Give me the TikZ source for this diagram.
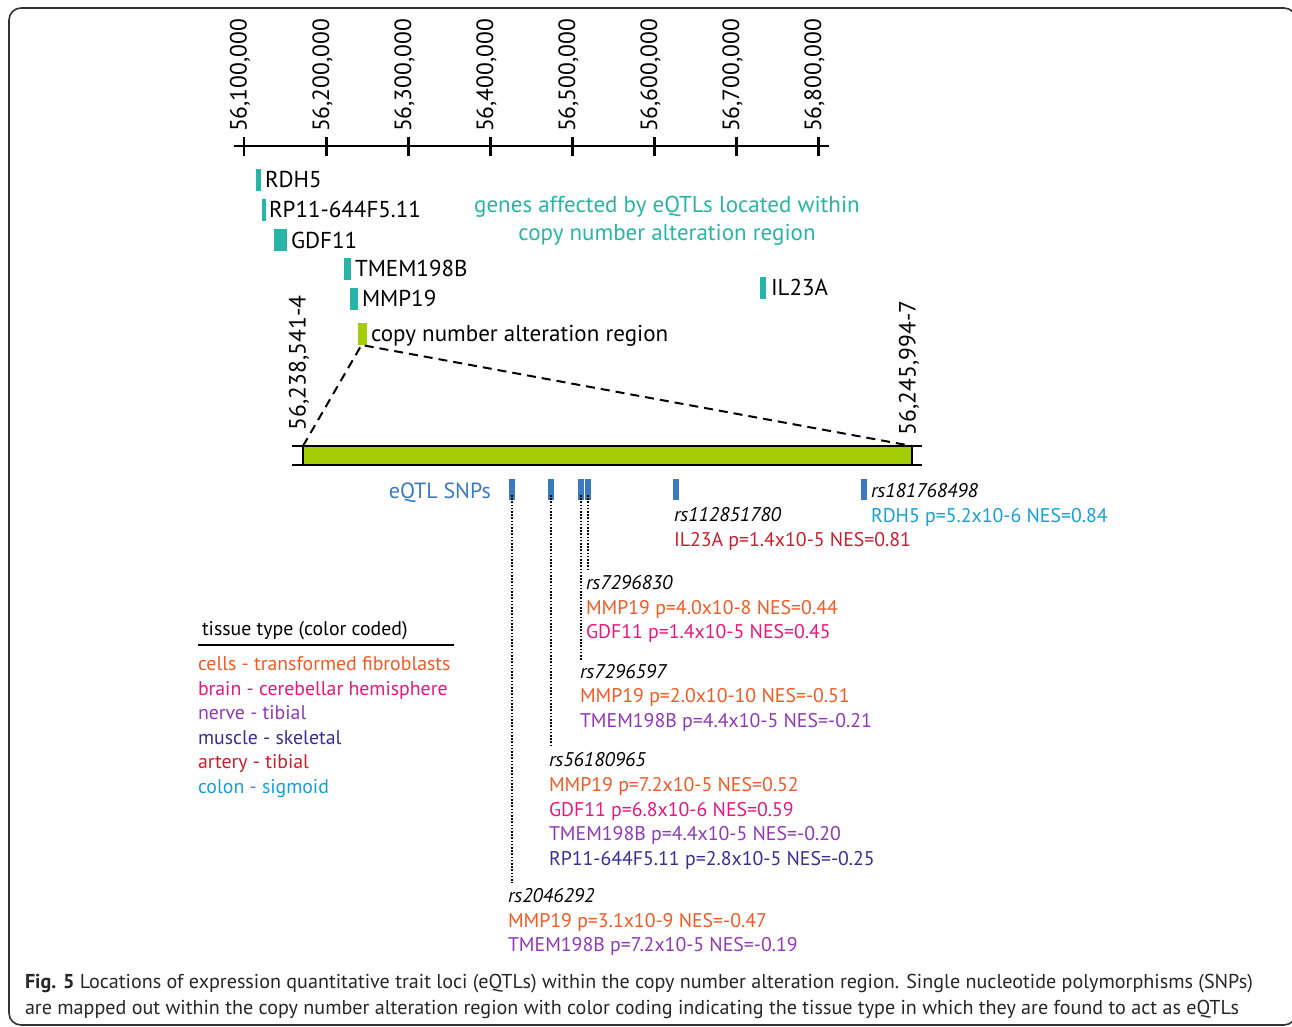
\documentclass[tikz,border=0pt]{standalone}
\usepackage{fontspec}
\setmainfont{PT Sans}
\definecolor{geneteal}{RGB}{40,180,166}
\definecolor{cnagreen}{RGB}{163,206,6}
\definecolor{snpblue}{RGB}{58,122,192}
\definecolor{tcells}{RGB}{241,90,36}
\definecolor{tbrain}{RGB}{226,25,125}
\definecolor{tnerve}{RGB}{145,55,185}
\definecolor{tmuscle}{RGB}{55,45,150}
\definecolor{tartery}{RGB}{200,30,45}
\definecolor{tcolon}{RGB}{20,160,215}
\begin{document}
\begin{tikzpicture}[x=1pt,y=-1pt,
  lbl/.style={inner sep=0pt,outer sep=0pt,anchor=base west,font=\fontsize{19.8}{24}\selectfont},
  genelbl/.style={lbl,font=\fontsize{23}{27}\selectfont},
  rslbl/.style={lbl,font=\fontsize{19.8}{24}\selectfont\itshape},
  axlbl/.style={inner sep=0pt,outer sep=0pt,rotate=90,anchor=mid west,font=\fontsize{23.5}{27}\selectfont},
  genebar/.style={fill=geneteal,draw=none,inner sep=0pt,outer sep=0pt,anchor=north west,minimum height=22,minimum width=#1},
  snpbar/.style={fill=snpblue,draw=none,inner sep=0pt,outer sep=0pt,anchor=north west,minimum height=21,minimum width=6},
  dotline/.style={line width=1.8pt,dash pattern=on 1.6pt off 1.6pt},
  dashline/.style={line width=2pt,dash pattern=on 9pt off 6pt},
  axisline/.style={line width=2.4pt},
]
\useasboundingbox (0,0) rectangle (1292,1027);
% frame
\draw[line width=1.6pt,black!80,rounded corners=12pt] (9,8) rectangle (1296,1025);

% top axis
\coordinate (axA) at (234,146);
\coordinate (axB) at (829,146);
\draw[axisline] (axA) -- (axB);
\foreach \i/\xx/\t in {1/244/56{,}100{,}000,2/326.5/56{,}200{,}000,3/408.5/56{,}300{,}000,4/490.5/56{,}400{,}000,5/572.5/56{,}500{,}000,6/654.5/56{,}600{,}000,7/736.5/56{,}700{,}000,8/818.5/56{,}800{,}000}{
  \draw[axisline] (\xx,137) -- (\xx,156);
  \node[axlbl] (ax\i) at (\xx,132) {\t};
}

% genes
\node[genebar=5] (bRDH) at (256,169) {};
\node[genelbl] (tRDH) at (265,187) {RDH5};
\node[genebar=4] (bRP) at (262,199) {};
\node[genelbl] (tRP) at (269,218) {RP11-644F5.11};
\node[genebar=13] (bGDF) at (274,229) {};
\node[genelbl] (tGDF) at (291,248) {GDF11};
\node[genebar=7] (bTMEM) at (344,258) {};
\node[genelbl] (tTMEM) at (355,276) {TMEM198B};
\node[genebar=8] (bMMP) at (350,288) {};
\node[genelbl] (tMMP) at (362,306) {MMP19};
\node[genebar=6] (bIL) at (760,277) {};
\node[genelbl] (tIL) at (771,295) {IL23A};
\node[genebar=9,fill=cnagreen] (bCNA) at (358,323) {};
\node[genelbl] (tCNA) at (371,341) {copy number alteration region};

\node[inner sep=0pt,anchor=base,font=\fontsize{23}{27}\selectfont,text=geneteal] (tHead1) at (667,212) {genes affected by eQTLs located within};
\node[inner sep=0pt,anchor=base,font=\fontsize{23}{27}\selectfont,text=geneteal] (tHead2) at (667,240) {copy number alteration region};

% copy number alteration bar
\coordinate (lnA) at (292,446);
\coordinate (lnB) at (922,446);
\coordinate (lnC) at (292,465);
\coordinate (lnD) at (922,465);
\draw[axisline] (lnA) -- (lnB);
\draw[axisline] (lnC) -- (lnD);
\node[fill=cnagreen,draw=black,line width=2pt,inner sep=0pt,outer sep=0pt,anchor=north west,minimum width=609,minimum height=19] (cnabar) at (303,446) {};
\draw[dashline] (cnabar.north west) -- ([xshift=-1pt]bCNA.south) -- (cnabar.north east);
\node[axlbl] (posA) at (303,430) {56,238,541-4};
\node[axlbl] (posB) at (913,435) {56,245,994-7};

% SNPs
\node[inner sep=0pt,anchor=base east,font=\fontsize{22}{26}\selectfont,text=snpblue] (tSNP) at (491,498) {eQTL SNPs};
\node[snpbar] (s1) at (509,479) {};
\node[snpbar] (s2) at (548,479) {};
\node[snpbar] (s3) at (578,479) {};
\node[snpbar] (s4) at (585,479) {};
\node[snpbar] (s5) at (673,479) {};
\node[snpbar] (s6) at (861,479) {};

% SNP labels
\node[rslbl] (r6) at (871,497) {rs181768498};
\node[lbl,text=tcolon] (r6a) at (871,522) {RDH5 p=5.2x10-6 NES=0.84};

\node[rslbl] (r5) at (674,521) {rs112851780};
\node[lbl,text=tartery] (r5a) at (674,546) {IL23A p=1.4x10-5 NES=0.81};

\node[rslbl] (r4) at (586,589) {rs7296830};
\node[lbl,text=tcells] (r4a) at (586,614) {MMP19 p=4.0x10-8 NES=0.44};
\node[lbl,text=tbrain] (r4b) at (586,638) {GDF11 p=1.4x10-5 NES=0.45};

\node[rslbl] (r3) at (580,678) {rs7296597};
\node[lbl,text=tcells] (r3a) at (580,702) {MMP19 p=2.0x10-10 NES=-0.51};
\node[lbl,text=tnerve] (r3b) at (580,727) {TMEM198B p=4.4x10-5 NES=-0.21};

\node[rslbl] (r2) at (549,766) {rs56180965};
\node[lbl,text=tcells] (r2a) at (549,791) {MMP19 p=7.2x10-5 NES=0.52};
\node[lbl,text=tbrain] (r2b) at (549,816) {GDF11 p=6.8x10-6 NES=0.59};
\node[lbl,text=tnerve] (r2c) at (549,840) {TMEM198B p=4.4x10-5 NES=-0.20};
\node[lbl,text=tmuscle] (r2d) at (549,865) {RP11-644F5.11 p=2.8x10-5 NES=-0.25};

\node[rslbl] (r1) at (508,902) {rs2046292};
\node[lbl,text=tcells] (r1a) at (508,927) {MMP19 p=3.1x10-9 NES=-0.47};
\node[lbl,text=tnerve] (r1b) at (508,951) {TMEM198B p=7.2x10-5 NES=-0.19};

% dotted leaders
\draw[dotline] ([yshift=5pt]s1.south) -- (s1.south |- 0,883);
\draw[dotline] ([yshift=5pt]s2.south) -- (s2.south |- 0,746);
\draw[dotline] ([yshift=5pt]s3.south) -- (s3.south |- 0,660);
\draw[dotline] ([yshift=5pt]s4.south) -- (s4.south |- 0,571);

% legend
\node[lbl] (legT) at (202,635) {tissue type (color coded)};
\coordinate (legL) at (198,645);
\coordinate (legR) at (454,645);
\draw[line width=2pt] (legL) -- (legR);
\node[lbl,text=tcells] (leg1) at (198,670) {cells - transformed fibroblasts};
\node[lbl,text=tbrain] (leg2) at (198,695) {brain - cerebellar hemisphere};
\node[lbl,text=tnerve] (leg3) at (198,719) {nerve - tibial};
\node[lbl,text=tmuscle] (leg4) at (198,744) {muscle - skeletal};
\node[lbl,text=tartery] (leg5) at (198,768) {artery - tibial};
\node[lbl,text=tcolon] (leg6) at (198,793) {colon - sigmoid};

% caption
\node[lbl,font=\fontsize{20.1}{24}\selectfont,text=black!85] (cap1) at (25,988) {\textbf{Fig. 5} Locations of expression quantitative trait loci (eQTLs) within the copy number alteration region. Single nucleotide polymorphisms (SNPs)};
\node[lbl,font=\fontsize{20.1}{24}\selectfont,text=black!85] (cap2) at (25,1014) {are mapped out within the copy number alteration region with color coding indicating the tissue type in which they are found to act as eQTLs};
\end{tikzpicture}
\end{document}
